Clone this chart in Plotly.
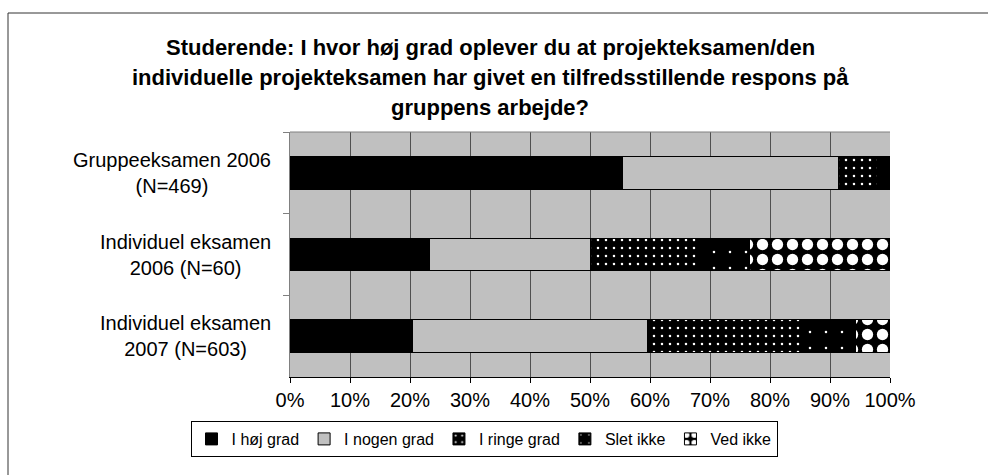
import plotly.graph_objects as go

categories = ["Gruppeeksamen 2006 (N=469)", "Individuel eksamen 2006 (N=60)", "Individuel eksamen 2007 (N=603)"]
category_labels = ["Gruppeeksamen 2006<br>(N=469)", "Individuel eksamen<br>2006 (N=60)", "Individuel eksamen<br>2007 (N=603)"]
series_names = ["I høj grad", "I nogen grad", "I ringe grad", "Slet ikke", "Ved ikke"]
hoej_grad = [55.4, 23.3, 20.4]
nogen_grad = [36.0, 26.7, 39.2]
ringe_grad = [6.5, 18.3, 25.5]
slet_ikke = [1.8, 8.3, 9.2]
ved_ikke = [0.3, 23.4, 5.7]
x_ticks = list(range(0, 101, 10))
x_tick_labels = [f"{v}%" for v in x_ticks]
title_lines = [
    "Studerende: I hvor høj grad oplever du at projekteksamen/den",
    "individuelle projekteksamen har givet en tilfredsstillende respons på",
    "gruppens arbejde?",
]

FONT = "Liberation Sans, Arial, sans-serif"
values = [hoej_grad, nogen_grad, ringe_grad, slet_ikke, ved_ikke]
styles = [
    dict(color="black"),
    dict(color="#C0C0C0"),
    dict(color="black", pattern=dict(shape=".", fillmode="replace", bgcolor="black", fgcolor="white", size=8, solidity=0.08)),
    dict(color="black", pattern=dict(shape=".", fillmode="replace", bgcolor="black", fgcolor="white", size=16, solidity=0.02)),
    dict(color="white", pattern=dict(shape=".", fillmode="replace", bgcolor="black", fgcolor="white", size=15, solidity=0.45)),
]

fig = go.Figure()
for name, vals, st in zip(series_names, values, styles):
    marker = dict(st)
    marker["line"] = dict(color="black", width=1)
    fig.add_trace(go.Bar(
        y=categories, x=vals, name=name, orientation="h",
        marker=marker, width=0.4,
    ))

W, H = 988, 475
L, R, T, B = 290, 98, 132, 98
pw, ph = W - L - R, H - T - B

def px_x(p):
    return (p - L) / pw

def px_y(p):
    return (H - B - p) / ph

annotations = []
for i, line in enumerate(title_lines):
    annotations.append(dict(
        text=f"<b>{line}</b>", x=px_x(490), y=px_y(47 + 30 * i), xref="paper", yref="paper",
        xanchor="center", yanchor="middle", showarrow=False,
        font=dict(family=FONT, size=22, color="black"),
    ))
for cat, lab in zip(categories, category_labels):
    annotations.append(dict(
        text=lab, x=px_x(273), y=cat, xref="paper", yref="y",
        xanchor="right", yanchor="middle", align="center", showarrow=False,
        font=dict(family=FONT, size=20, color="black"),
    ))

fig.update_layout(
    width=W, height=H,
    margin=dict(l=L, r=R, t=T, b=B, autoexpand=False),
    barmode="stack",
    paper_bgcolor="white",
    plot_bgcolor="#C0C0C0",
    font=dict(family=FONT, size=20, color="black"),
    showlegend=True,
    legend=dict(
        orientation="h", x=px_x(484), y=px_y(421), xanchor="center", yanchor="top",
        bordercolor="black", borderwidth=1, bgcolor="white",
        font=dict(family=FONT, size=16, color="black"),
        itemwidth=30, traceorder="normal",
    ),
    xaxis=dict(
        range=[0, 100], tickvals=x_ticks, ticktext=x_tick_labels,
        showgrid=True, gridcolor="#505050", gridwidth=1,
        showline=True, linecolor="black", linewidth=1,
        ticks="outside", ticklen=5, tickcolor="black",
        zeroline=False, fixedrange=True,
        tickfont=dict(family=FONT, size=20, color="black"),
    ),
    yaxis=dict(
        type="category", categoryorder="array", categoryarray=categories,
        autorange="reversed", tickson="boundaries",
        showticklabels=False, showgrid=False,
        showline=True, linecolor="#808080", linewidth=1,
        ticks="outside", ticklen=6, tickcolor="#808080",
        zeroline=False, fixedrange=True,
    ),
    annotations=annotations,
    shapes=[
        dict(type="line", xref="paper", yref="paper", x0=0, x1=1, y0=1, y1=1,
             line=dict(color="#808080", width=1)),
        dict(type="rect", xref="paper", yref="paper",
             x0=px_x(8), x1=px_x(1000), y0=px_y(13), y1=px_y(490),
             line=dict(color="#333333", width=1), layer="below"),
    ],
)

fig.write_html("out.html", config={"displayModeBar": False},
               post_script="document.body.style.margin='0px';")
